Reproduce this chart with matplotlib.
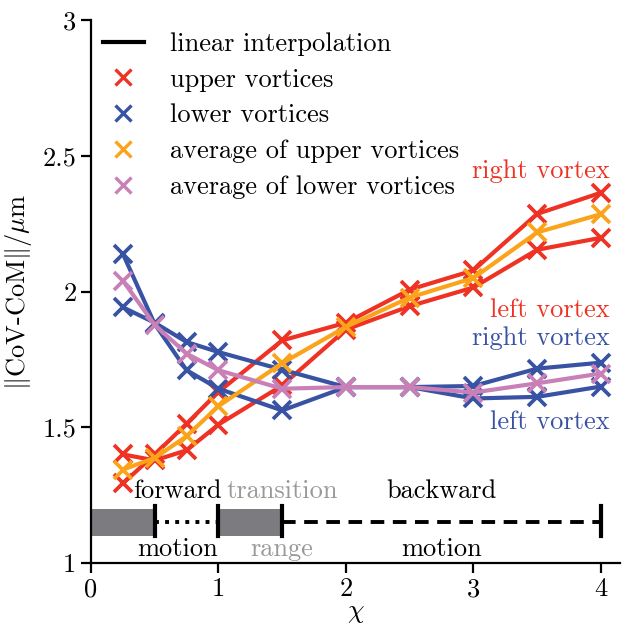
import numpy as np
import matplotlib
matplotlib.use('Agg')
import matplotlib.pyplot as plt
from matplotlib.lines import Line2D

plt.rcParams['font.family'] = ['cmr10', 'DejaVu Serif']
plt.rcParams['mathtext.fontset'] = 'cm'
plt.rcParams['axes.formatter.use_mathtext'] = True
plt.rcParams['font.size'] = 19

# data
chi = [0.25, 0.5, 0.75, 1.0, 1.5, 2.0, 2.5, 3.0, 3.5, 4.0]
upper_right = [1.293, 1.40, 1.513, 1.63, 1.82, 1.885, 2.007, 2.078, 2.286, 2.364]
upper_left = [1.40, 1.378, 1.415, 1.51, 1.654, 1.86, 1.946, 2.015, 2.154, 2.198]
lower_a = [2.139, 1.88, 1.71, 1.642, 1.562, 1.648, 1.648, 1.606, 1.612, 1.65]
lower_b = [1.942, 1.885, 1.814, 1.777, 1.712, 1.648, 1.648, 1.652, 1.716, 1.738]
avg_upper = [1.344, 1.387, 1.467, 1.578, 1.736, 1.87, 1.978, 2.05, 2.218, 2.285]
avg_lower = [2.04, 1.877, 1.771, 1.71, 1.642, 1.648, 1.648, 1.628, 1.662, 1.698]

red = '#ee3224'
blue = '#3953a4'
orange = '#faa31b'
purple = '#c880b7'
grey = '#7b7b80'

fig = plt.figure(figsize=(6.32, 6.29), dpi=100)
ax = fig.add_axes([0.144, 0.105, 0.837, 0.863])

kw = dict(marker='x', ms=13, mew=2.7, lw=3.0)
ax.plot(chi, upper_right, color=red, **kw)
ax.plot(chi, upper_left, color=red, **kw)
ax.plot(chi, lower_a, color=blue, **kw)
ax.plot(chi, lower_b, color=blue, **kw)
ax.plot(chi, avg_upper, color=orange, **kw)
ax.plot(chi, avg_lower, color=purple, **kw)

# motion regime bar at the bottom
ax.fill_between([0, 0.5], 1.1, 1.2, color=grey, lw=0)
ax.fill_between([1, 1.5], 1.1, 1.2, color=grey, lw=0)
ax.plot([0.5, 1], [1.15, 1.15], color='k', lw=2.8, ls=(0, (1, 1.6)))
ax.plot([1.5, 4], [1.15, 1.15], color='k', lw=2.8, ls=(0, (3.5, 2.2)))
for xb in [0.5, 1, 1.5, 4]:
    ax.plot([xb, xb], [1.1, 1.21], color='k', lw=3)

ax.text(0.68, 1.265, 'forward', ha='center', va='center')
ax.text(0.68, 1.05, 'motion', ha='center', va='center')
ax.text(1.5, 1.265, 'transition', ha='center', va='center', color='#999999')
ax.text(1.5, 1.05, 'range', ha='center', va='center', color='#999999')
ax.text(2.75, 1.265, 'backward', ha='center', va='center')
ax.text(2.75, 1.05, 'motion', ha='center', va='center')

ax.text(4.07, 2.445, 'right vortex', ha='right', va='center', color=red)
ax.text(4.07, 1.93, 'left vortex', ha='right', va='center', color=red)
ax.text(4.07, 1.827, 'right vortex', ha='right', va='center', color=blue)
ax.text(4.07, 1.518, 'left vortex', ha='right', va='center', color=blue)

handles = [
    Line2D([], [], color='k', lw=3.0),
    Line2D([], [], color=red, marker='x', ls='none', ms=11, mew=2.4),
    Line2D([], [], color=blue, marker='x', ls='none', ms=11, mew=2.4),
    Line2D([], [], color=orange, marker='x', ls='none', ms=11, mew=2.4),
    Line2D([], [], color=purple, marker='x', ls='none', ms=11, mew=2.4),
]
labels = ['linear interpolation', 'upper vortices', 'lower vortices',
          'average of upper vortices', 'average of lower vortices']
ax.legend(handles, labels, loc='upper left', bbox_to_anchor=(0.0, 1.0),
          frameon=False, handlelength=1.55, handletextpad=1.0,
          labelspacing=0.46, borderaxespad=0.05)

ax.set_xlim(0, 4.15)
ax.set_ylim(1, 3)
ax.set_xticks([0, 1, 2, 3, 4])
ax.set_xticklabels(['0', '1', '2', '3', '4'])
ax.set_yticks([1, 1.5, 2, 2.5, 3])
ax.set_yticklabels(['1', '1.5', '2', '2.5', '3'])
ax.spines['top'].set_visible(False)
ax.spines['right'].set_visible(False)
for s in ['left', 'bottom']:
    ax.spines[s].set_linewidth(1.6)
ax.tick_params(direction='out', length=7, width=1.6, labelsize=19)
ax.set_xlabel(r'$\chi$', labelpad=0)
ax.set_ylabel(r'$\Vert$CoV-CoM$\Vert$/$\mu$m', labelpad=6)

fig.savefig('out.png', dpi=100)
